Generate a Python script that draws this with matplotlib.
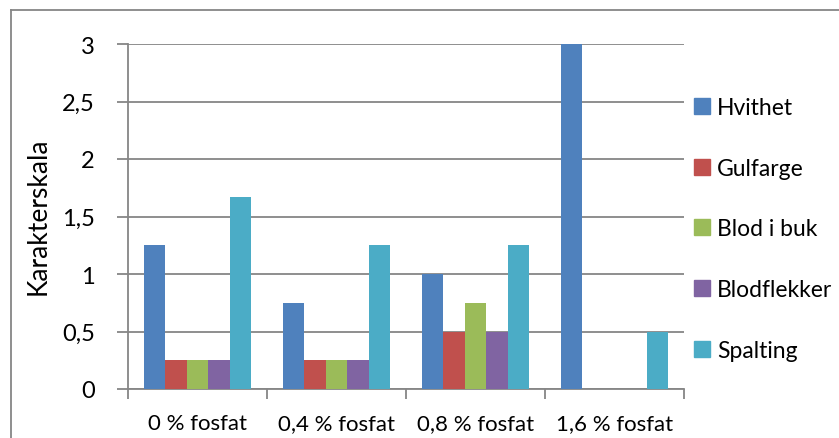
import matplotlib
matplotlib.use("Agg")
import matplotlib.pyplot as plt
import numpy as np
from matplotlib.lines import Line2D

categories = ["0 % fosfat", "0,4 % fosfat", "0,8 % fosfat", "1,6 % fosfat"]
series_names = ["Hvithet", "Gulfarge", "Blod i buk", "Blodflekker", "Spalting"]
hvithet = [1.25, 0.75, 1.0, 3.0]
gulfarge = [0.25, 0.25, 0.5, 0.0]
blod_i_buk = [0.25, 0.25, 0.75, 0.0]
blodflekker = [0.25, 0.25, 0.5, 0.0]
spalting = [1.67, 1.25, 1.25, 0.5]
yticks = [0, 0.5, 1, 1.5, 2, 2.5, 3]
ytick_labels = ["0", "0,5", "1", "1,5", "2", "2,5", "3"]
colors = ["#4F81BD", "#C0504D", "#9BBB59", "#8064A2", "#4BACC6"]

series = [hvithet, gulfarge, blod_i_buk, blodflekker, spalting]

plt.rcParams['font.family'] = ['Lato', 'DejaVu Sans']

W, H = 839, 439
fig = plt.figure(figsize=(W / 100, H / 100), dpi=100)
ax = fig.add_axes([128 / W, 1 - 390 / H, (684 - 128) / W, (390 - 45) / H])

n = len(series)
bw = 1 / (n + 1.5)
x = np.arange(len(categories))
for i, (vals, c, name) in enumerate(zip(series, colors, series_names)):
    offs = (i - (n - 1) / 2) * bw
    ax.bar(x + offs, vals, width=bw, color=c, label=name, zorder=3,
           edgecolor='none')

ax.set_xlim(-0.5, len(categories) - 0.5)
ax.set_ylim(0, 3)
ax.set_yticks(yticks)
ax.set_yticklabels(ytick_labels, fontsize=17)
for v in yticks:
    ax.axhline(v, color='#868686', lw=1.3, zorder=1)

ax.set_xticks(np.arange(len(categories) + 1) - 0.5, minor=False)
ax.set_xticklabels([""] * (len(categories) + 1))
ax.set_xticks(x, minor=True)
ax.set_xticklabels(categories, minor=True, fontsize=16)
ax.tick_params(axis='x', which='minor', length=0, pad=17)
ax.tick_params(axis='x', which='major', length=7, color='#868686', width=1.3)
ax.tick_params(axis='y', length=8, color='#868686', width=1.3, pad=16)

for s in ['top', 'right']:
    ax.spines[s].set_visible(False)
for s in ['left', 'bottom']:
    ax.spines[s].set_color('#868686')
    ax.spines[s].set_linewidth(1.3)

ax.set_ylabel("Karakterskala", fontsize=19)
ax.yaxis.set_label_coords(-(128 - 51) / (684 - 128), 0.5 - (216 - 217.5) / 345)

handles = [plt.Rectangle((0, 0), 1, 1, color=c) for c in colors]
leg = fig.legend(handles, series_names, loc='upper left',
                 bbox_to_anchor=(685 / W, 1 - 89 / H), frameon=False,
                 fontsize=16.5, handlelength=0.7, handleheight=0.7,
                 handletextpad=0.3, labelspacing=1.73, borderaxespad=0)

# outer chart frame (left and top only visible)
fig.add_artist(Line2D([11 / W, 11 / W], [0, 1 - 11 / H], color='#868686', lw=1.3,
                      transform=fig.transFigure))
fig.add_artist(Line2D([11 / W, 1], [1 - 11 / H, 1 - 11 / H], color='#868686', lw=1.3,
                      transform=fig.transFigure))

fig.savefig("out.png", dpi=100, facecolor='white')
